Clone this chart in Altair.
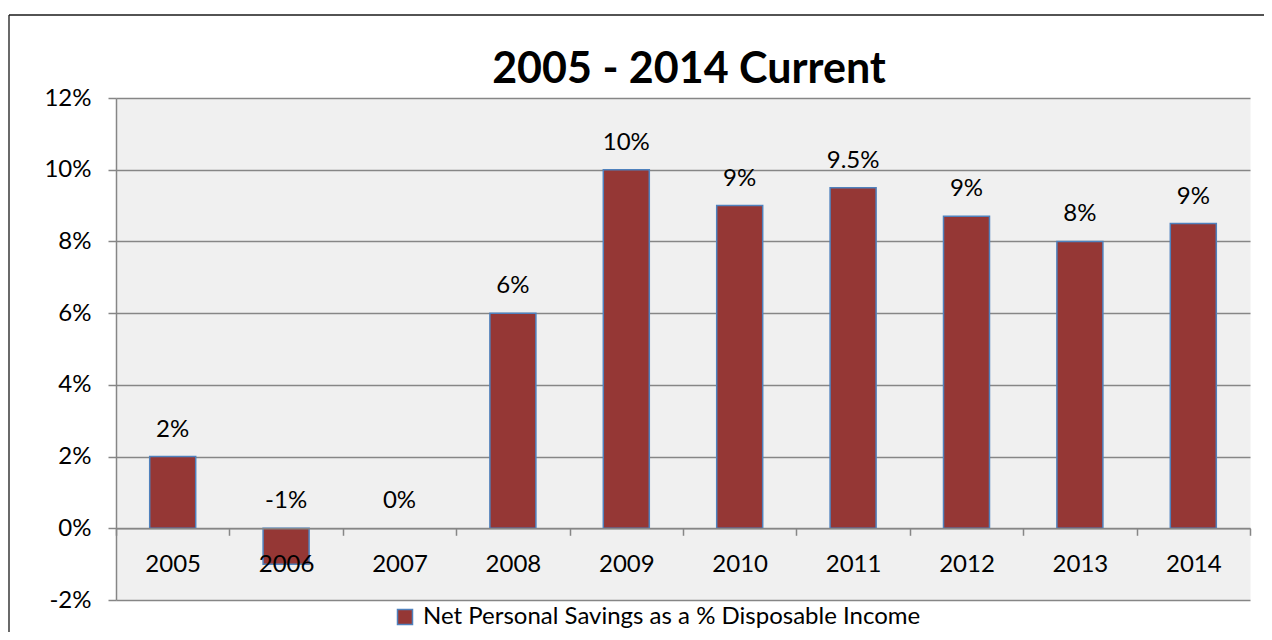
import altair as alt
import pandas as pd

years = ["2005", "2006", "2007", "2008", "2009", "2010", "2011", "2012", "2013", "2014"]
values = [2.0, -1.0, 0.0, 6.0, 10.0, 9.0, 9.5, 8.7, 8.0, 8.5]
labels = ["2%", "-1%", "0%", "6%", "10%", "9%", "9.5%", "9%", "8%", "9%"]
series_name = "Net Personal Savings as a % Disposable Income"
y_ticks = [-2, 0, 2, 4, 6, 8, 10, 12]
chart_title = "2005 - 2014 Current"

W, H = 1134, 502
FONT = "Lato"
GRAY = "#868686"

df = pd.DataFrame({"year": years, "value": values, "label": labels})
df["series"] = series_name

base = alt.Chart(df)

x_enc = alt.X(
    "year:N", sort=years,
    scale=alt.Scale(paddingInner=0, paddingOuter=0),
    axis=alt.Axis(
        title=None, labelAngle=0, tickBand="extent", offset=-H * 2 / 14,
        domainColor=GRAY, domainWidth=1.5, tickColor=GRAY, tickWidth=1.5,
        tickSize=7, labelFont=FONT, labelFontSize=24, labelColor="#000000",
        labelPadding=17, grid=False, zindex=1,
    ),
)
y_enc = alt.Y(
    "value:Q",
    scale=alt.Scale(domain=[-2, 12], nice=False, zero=False),
    axis=alt.Axis(
        title=None, values=y_ticks, labelExpr="datum.value + '%'",
        domainColor=GRAY, domainWidth=1.5, tickColor=GRAY, tickWidth=1.5,
        tickSize=8, labelFont=FONT, labelFontSize=24, labelColor="#000000",
        labelPadding=17, gridColor=GRAY, gridWidth=1.3, gridOpacity=1, zindex=0,
    ),
)

bars = base.mark_bar(size=46, stroke="#4f81bd").encode(
    x=x_enc,
    y=y_enc,
    strokeWidth=alt.condition("datum.value == 0", alt.value(0), alt.value(1.5)),
    color=alt.Color(
        "series:N",
        scale=alt.Scale(domain=[series_name], range=["#953735"]),
        legend=alt.Legend(
            title=None, orient="none", legendX=277, legendY=507,
            symbolType="square", symbolSize=225, symbolStrokeColor="#4f81bd",
            symbolStrokeWidth=1.5, symbolOpacity=1, labelFont=FONT, labelFontSize=24,
            labelColor="#000000", labelOffset=6, padding=0, labelLimit=1000,
        ),
    ),
)

text = base.transform_calculate(lp="max(datum.value, 0)").mark_text(
    font=FONT, fontSize=24, dy=-27, baseline="middle", color="#000000"
).encode(
    x=alt.X("year:N", sort=years),
    y=alt.Y("lp:Q"),
    text="label:N",
)

title_layer = alt.Chart(alt.Data(values=[{"t": chart_title}])).mark_text(
    font=FONT, fontSize=43, fontWeight="bold", align="center",
    baseline="alphabetic", color="#000000"
).encode(
    x=alt.value(W / 2 + 6), y=alt.value(-15), text="t:N",
)

frame_data = alt.Data(values=[{"f": 1}])
frame_top = alt.Chart(frame_data).mark_rule(stroke="#1a1a1a", strokeWidth=1.3).encode(
    x=alt.value(-107), x2=alt.value(W + 200), y=alt.value(-83),
)
frame_left = alt.Chart(frame_data).mark_rule(stroke="#1a1a1a", strokeWidth=1.3).encode(
    x=alt.value(-107), y=alt.value(-83), y2=alt.value(H + 200),
)

chart = alt.layer(bars, text, title_layer, frame_top, frame_left).properties(
    width=W,
    height=H,
    autosize=alt.AutoSizeParams(type="none"),
    padding={"left": 108, "top": 90, "right": 14, "bottom": 32},
    background="#ffffff",
).configure_view(fill="#f0f0f0", stroke="transparent")

chart.save("out.html", embed_options={"renderer": "svg", "actions": False})
